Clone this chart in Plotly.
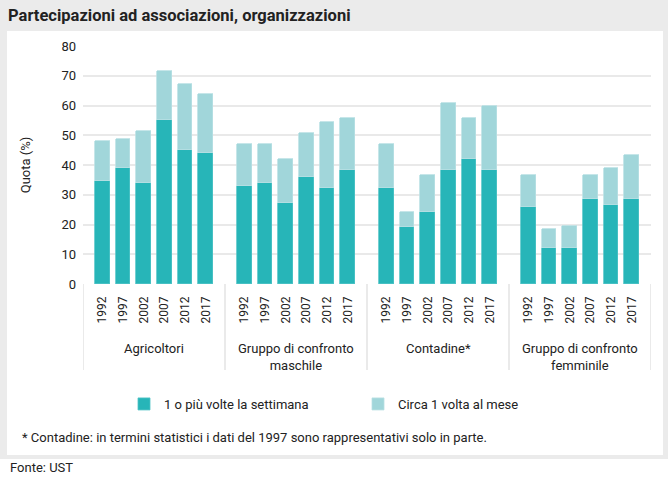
import plotly.graph_objects as go

# ---------------- data ----------------
groups = ["Agricoltori", "Gruppo di confronto<br>maschile", "Contadine*", "Gruppo di confronto<br>femminile"]
years = ["1992", "1997", "2002", "2007", "2012", "2017"]

# "1 o più volte la settimana"
weekly = [34.5, 39.0, 34.0, 55.0, 45.0, 44.2,
          33.0, 33.8, 27.2, 36.0, 32.3, 38.2,
          32.3, 19.2, 24.2, 38.2, 41.9, 38.2,
          25.9, 12.0, 12.0, 28.6, 26.4, 28.6]
# "Circa 1 volta al mese"
monthly = [13.7, 9.8, 17.3, 16.7, 22.3, 19.5,
           13.9, 13.1, 14.7, 14.6, 22.0, 17.5,
           14.6, 5.0, 12.3, 22.6, 13.8, 21.6,
           10.6, 6.4, 7.6, 8.0, 12.7, 14.6]

series_names = ["1 o più volte la settimana", "Circa 1 volta al mese"]
title_text = "Partecipazioni ad associazioni, organizzazioni"
footnote = "* Contadine: in termini statistici i dati del 1997 sono rappresentativi solo in parte."
source = "Fonte: UST"

# ---------------- layout helpers ----------------
W, H = 668, 479
L, R, T, B = 83, 651, 46, 284
PW, PH = R - L, B - T

def px(x):
    return (x - L) / PW

def py(y):
    return (B - y) / PH

FONT = "Liberation Sans Narrow, Roboto, sans-serif"
DARK = "#27b5b8"
LIGHT = "#a1d6da"

G = 6.85        # group span in bar-pitch units
OFF = 0.925     # first bar offset inside a group

xs, tickvals, ticktext = [], [], []
for gi, g in enumerate(groups):
    for yi, y in enumerate(years):
        pos = gi * G + OFF + yi
        xs.append(pos)
        tickvals.append(pos)
        ticktext.append(y)

fig = go.Figure()
fig.add_trace(go.Bar(x=xs, y=weekly, name=series_names[0], width=0.71,
                     marker=dict(color=DARK, line=dict(color="#4fc3c6", width=0.8))))
fig.add_trace(go.Bar(x=xs, y=monthly, name=series_names[1], width=0.71,
                     marker=dict(color=LIGHT, line=dict(color="#b8e0e3", width=0.8))))

shapes = []
# outer grey frame
shapes.append(dict(type="rect", xref="paper", yref="paper", layer="below",
                   x0=px(0), x1=px(W), y0=py(459), y1=py(0),
                   fillcolor="#ebebeb", line=dict(width=0)))
# white panel
shapes.append(dict(type="rect", xref="paper", yref="paper", layer="below",
                   x0=px(7), x1=px(663), y0=py(455), y1=py(31),
                   fillcolor="white", line=dict(width=0)))
# group dividers
for gi in range(len(groups) + 1):
    shapes.append(dict(type="line", xref="x", yref="paper",
                       x0=gi * G, x1=gi * G, y0=py(284), y1=py(370),
                       line=dict(color="#e3e3e3", width=1.5)))

annotations = []
for gi, g in enumerate(groups):
    annotations.append(dict(x=gi * G + G / 2, xref="x", y=py(339), yref="paper",
                            text=g, showarrow=False, xanchor="center", yanchor="top",
                            font=dict(family=FONT, size=13, color="#222")))
annotations.append(dict(x=px(20), xref="paper", y=py(437), yref="paper", text=footnote,
                        showarrow=False, xanchor="left", yanchor="middle",
                        font=dict(family=FONT, size=13, color="#222")))
annotations.append(dict(x=px(8), xref="paper", y=py(467), yref="paper", text=source,
                        showarrow=False, xanchor="left", yanchor="middle",
                        font=dict(family=FONT, size=13, color="#222")))

fig.update_layout(
    width=W, height=H,
    margin=dict(l=L, r=W - R, t=T, b=H - B),
    barmode="stack",
    paper_bgcolor="white", plot_bgcolor="rgba(0,0,0,0)",
    font=dict(family=FONT, size=13, color="#222"),
    title=dict(text=title_text, x=8 / W, xanchor="left", xref="container",
               y=1 - 15 / H, yanchor="middle", yref="container",
               font=dict(family=FONT, size=16.5, color="#222", weight="bold")),
    xaxis=dict(range=[0, len(groups) * G], tickmode="array", tickvals=tickvals,
               ticktext=ticktext, tickangle=-90, showgrid=False, zeroline=False,
               showline=False, ticks="", ticklabelstandoff=9,
               tickfont=dict(family=FONT, size=12, color="#222")),
    yaxis=dict(range=[0, 80], dtick=10, gridcolor="#e9e9e9", gridwidth=2,
               zeroline=False, showline=False, ticks="", ticklabelstandoff=6,
               tickfont=dict(family=FONT, size=13, color="#222"),
               title=dict(text="Quota (%)", standoff=27,
                          font=dict(family=FONT, size=13, color="#222"))),
    legend=dict(orientation="h", x=px(124), xanchor="left", y=py(389), yanchor="top",
                entrywidth=189, entrywidthmode="pixels", traceorder="normal",
                font=dict(family=FONT, size=13, color="#222"), bgcolor="rgba(0,0,0,0)"),
    shapes=shapes, annotations=annotations,
    bargap=0,
)

fig.write_html("out.html", config={"displayModeBar": False},
               post_script="document.body.style.margin='0';")
